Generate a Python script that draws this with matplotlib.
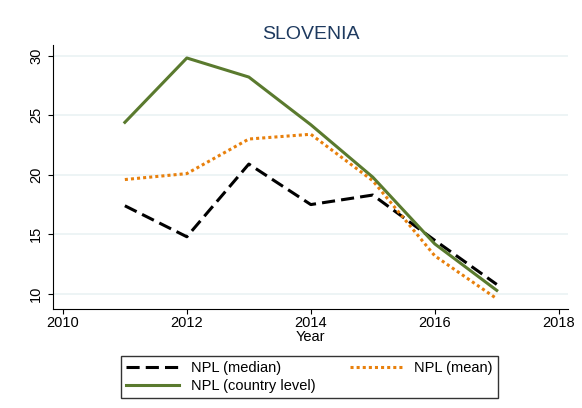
import numpy as np
import matplotlib.pyplot as plt

plt.rcParams['font.family'] = ['Liberation Sans', 'DejaVu Sans']

# data
years = [2011, 2012, 2013, 2014, 2015, 2016, 2017]
npl_median = [17.4, 14.8, 20.9, 17.5, 18.3, 14.5, 10.8]
npl_mean = [19.6, 20.1, 23.0, 23.4, 19.5, 13.2, 9.6]
npl_country = [24.4, 29.8, 28.2, 24.2, 19.8, 14.2, 10.3]

fig = plt.figure(figsize=(5.82, 4.08), dpi=100)
ax = fig.add_axes([0.091, 0.243, 0.885, 0.647])

l1, = ax.plot(years, npl_median, color='black', lw=2.2, ls=(0, (4.3, 2)), label='NPL (median)')
l2, = ax.plot(years, npl_mean, color='#e8800c', lw=2.2, ls=(0, (1, 1)), label='NPL (mean)')
l3, = ax.plot(years, npl_country, color='#5a7a2e', lw=2.2, label='NPL (country level)')

ax.set_xlim(2009.84, 2018.15)
ax.set_ylim(8.75, 30.9)
ax.set_xticks([2010, 2012, 2014, 2016, 2018])
ax.set_yticks([10, 15, 20, 25, 30])
ax.tick_params(axis='y', labelrotation=90, labelsize=10.5)
ax.tick_params(axis='x', labelsize=10.5, pad=2)
for lab in ax.get_yticklabels():
    lab.set_va('center')
ax.grid(axis='y', color='#eaf2f3', lw=1.2)
ax.set_axisbelow(True)
ax.spines['top'].set_visible(False)
ax.spines['right'].set_visible(False)
ax.set_title('SLOVENIA', fontsize=14, color='#1e3a5f', pad=4)
ax.set_xlabel('Year', fontsize=10.5, labelpad=0)

# legend filled row by row: median, mean / country level
leg = fig.legend([l1, l3, l2], ['NPL (median)', 'NPL (country level)', 'NPL (mean)'],
                 loc='center', bbox_to_anchor=(0.532, 0.076), ncol=2,
                 fontsize=10.5, frameon=True, fancybox=False, edgecolor='black',
                 handlelength=3.6, columnspacing=2.4, borderpad=0.35, labelspacing=0.25)
leg.get_frame().set_linewidth(1.0)

fig.savefig('out.png', dpi=100)
